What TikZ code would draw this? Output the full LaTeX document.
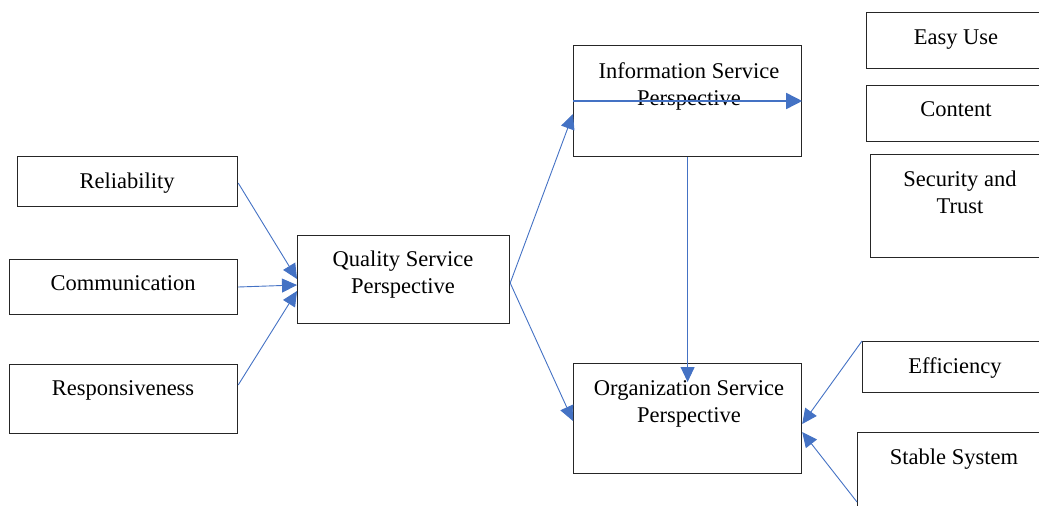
\documentclass[tikz,border=0pt]{standalone}
\usepackage{fontspec}
\setmainfont{Liberation Serif}
\usetikzlibrary{arrows.meta}
\definecolor{arblue}{HTML}{4472C4}
\begin{document}
\begin{tikzpicture}[x=1pt,y=-1pt,
  box/.style={draw=black!85, line width=1.2pt, anchor=north west, inner sep=0pt},
  txt/.style={font=\fontsize{22.5}{27}\selectfont, align=center, inner sep=0pt, anchor=north},
  conn/.style={draw=arblue, line width=0.9pt, -{Triangle[length=15pt,width=14pt]}},
  thick conn/.style={draw=arblue, line width=1.6pt, -{Triangle[length=16pt,width=16pt]}},
]
\useasboundingbox (0,0) rectangle (1039,506);
\begin{scope}
\clip (0,0) rectangle (1039,506);
% boxes
\node[box, minimum width=220pt, minimum height=50pt] (rel) at (17,156) {};
\node[box, minimum width=228pt, minimum height=55pt] (com) at (9,259) {};
\node[box, minimum width=228pt, minimum height=69pt] (resp) at (9,364) {};
\node[box, minimum width=212pt, minimum height=88pt] (qual) at (297,235) {};
\node[box, minimum width=228pt, minimum height=111pt] (info) at (573,45) {};
\node[box, minimum width=228pt, minimum height=110pt] (org) at (573,363) {};
\node[box, minimum width=190pt, minimum height=56pt] (easy) at (866,12) {};
\node[box, minimum width=190pt, minimum height=56pt] (cont) at (866,85) {};
\node[box, minimum width=190pt, minimum height=103pt] (sec) at (870,154) {};
\node[box, minimum width=190pt, minimum height=51pt] (eff) at (862,341) {};
\node[box, minimum width=190pt, minimum height=90pt] (stab) at (857,432) {};
% texts
\node[txt] (relt) at (127,172.5) {Reliability};
\node[txt] (comt) at (123,275.5) {Communication};
\node[txt] (respt) at (123,380.5) {Responsiveness};
\node[txt] (qualt) at (403,250.5) {Quality Service\\Perspective};
\node[txt] (infot) at (689,62.5) {Information Service\\Perspective};
\node[txt] (orgt) at (689,380.5) {Organization Service\\Perspective};
\node[txt] (easyt) at (956,29.5) {Easy Use};
\node[txt] (contt) at (956,101) {Content};
\node[txt] (sect) at (960,170.5) {Security and\\Trust};
\node[txt] (efft) at (955,357.5) {Efficiency};
\node[txt] (stabt) at (954,448.5) {Stable System};
% connectors
\draw[conn] (rel.east |- 0,183) -- (qual.west |- 0,279);
\draw[conn] (com.east |- 0,287) -- (qual.west |- 0,285);
\draw[conn] (resp.east |- 0,385) -- (qual.west |- 0,291);
\draw[conn] (qual.east |- 0,283) -- (info.west |- 0,114);
\draw[conn] (qual.east |- 0,283) -- (org.west |- 0,421);
\draw[thick conn] (info.west |- 0,101) -- (info.east |- 0,101);
\draw[conn] (info.south) -- (org.north |- 0,382);
\draw[conn] (eff.north west) -- (org.east |- 0,424);
\draw[conn] (stab.west |- 0,502) -- (org.east |- 0,432);
\end{scope}
\end{tikzpicture}
\end{document}
